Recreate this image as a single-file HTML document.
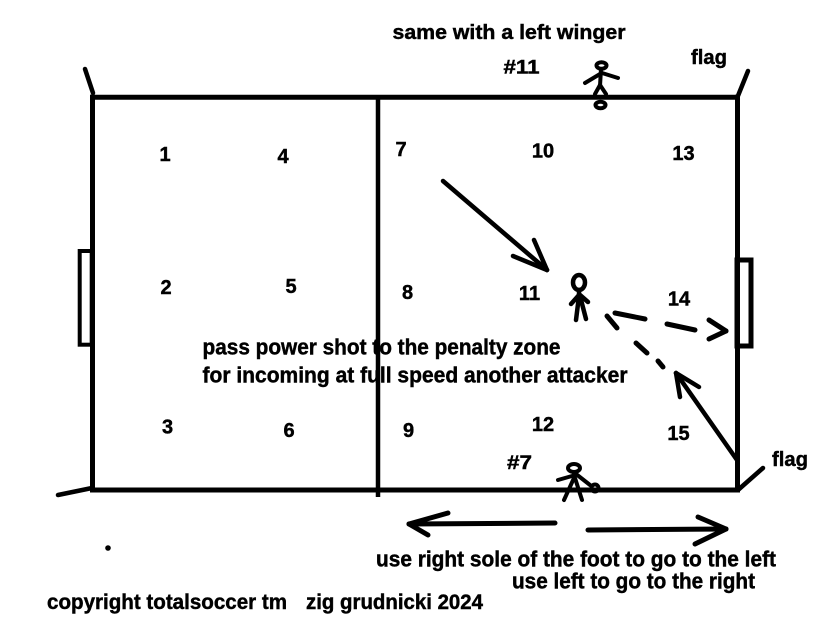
<!DOCTYPE html>
<html>
<head>
<meta charset="utf-8">
<style>
  html, body { margin:0; padding:0; background:#ffffff; }
  svg { display:block; }
  text { font-family: "Liberation Sans", sans-serif; fill:#000; font-weight:bold; stroke:#000; stroke-width:0.45; }
</style>
</head>
<body>
<svg width="823" height="620" viewBox="0 0 823 620" xmlns="http://www.w3.org/2000/svg">
  <rect width="823" height="620" fill="#ffffff"/>

  <!-- field -->
  <g stroke="#000" stroke-width="5" fill="none" stroke-linecap="square">
    <line x1="92.5" y1="97.3" x2="737.5" y2="97.3"/>
    <line x1="92.5" y1="97.3" x2="92.5" y2="490"/>
    <line x1="92.5" y1="490" x2="737.5" y2="490"/>
    <line x1="737.5" y1="97.3" x2="737.5" y2="490"/>
  </g>
  <line x1="378" y1="97" x2="378" y2="497" stroke="#000" stroke-width="4.5"/>

  <!-- goals -->
  <rect x="79.7" y="251" width="12" height="93.7" fill="none" stroke="#000" stroke-width="4"/>
  <rect x="737" y="260" width="14" height="86" fill="none" stroke="#000" stroke-width="5"/>

  <!-- flags -->
  <g stroke="#000" stroke-width="4.5" stroke-linecap="round">
    <line x1="85" y1="69" x2="93" y2="93"/>
    <line x1="748" y1="71" x2="737.5" y2="97"/>
    <line x1="763" y1="468" x2="738" y2="490"/>
    <line x1="58" y1="495" x2="92" y2="488"/>
  </g>

  <!-- arrow 1 -->
  <g stroke="#000" stroke-width="4.5" stroke-linecap="round" fill="none">
    <line x1="443" y1="181" x2="547" y2="270"/>
    <line x1="534" y1="240" x2="547" y2="270"/>
    <line x1="513" y1="256" x2="547" y2="270"/>
  </g>

  <!-- dashed arrow to goal -->
  <g stroke="#000" stroke-width="5" stroke-linecap="round" fill="none">
    <line x1="615" y1="313" x2="645" y2="319"/>
    <line x1="667" y1="324" x2="695" y2="330"/>
    <line x1="709" y1="320" x2="726" y2="331"/>
    <line x1="709" y1="339" x2="726" y2="331"/>
    <!-- diagonal dashes -->
    <line x1="607" y1="316" x2="617" y2="328"/>
    <line x1="636" y1="343" x2="647" y2="353"/>
    <line x1="658" y1="361" x2="663" y2="367"/>
  </g>

  <!-- corner arrow -->
  <g stroke="#000" stroke-width="4.5" stroke-linecap="round" fill="none">
    <line x1="737" y1="460" x2="676" y2="373"/>
    <line x1="680" y1="397" x2="676" y2="373"/>
    <line x1="699" y1="387" x2="676" y2="373"/>
  </g>

  <!-- bottom arrows -->
  <g stroke="#000" stroke-width="5" stroke-linecap="round" fill="none">
    <line x1="555" y1="523" x2="409" y2="524"/>
    <line x1="448" y1="513" x2="409" y2="524"/>
    <line x1="428" y1="535" x2="409" y2="524"/>
    <line x1="588" y1="530" x2="726" y2="529"/>
    <line x1="698" y1="517" x2="726" y2="529"/>
    <line x1="695" y1="544" x2="726" y2="529"/>
  </g>

  <!-- top player -->
  <g stroke="#000" stroke-width="4" stroke-linecap="round" fill="none">
    <ellipse cx="601.5" cy="65.5" rx="5" ry="3.2"/>
    <line x1="601" y1="69" x2="600" y2="86"/>
    <line x1="600" y1="74" x2="585" y2="83"/>
    <line x1="602" y1="73" x2="618" y2="78"/>
    <line x1="600" y1="85" x2="595" y2="94"/>
    <line x1="600" y1="85" x2="606" y2="94"/>
    <ellipse cx="600.5" cy="105" rx="5" ry="3.2"/>
  </g>

  <!-- center player -->
  <g stroke="#000" stroke-width="4.5" stroke-linecap="round" fill="none">
    <ellipse cx="579" cy="282.5" rx="6" ry="7.5"/>
    <line x1="579" y1="290" x2="579" y2="298"/>
    <line x1="579" y1="295" x2="571" y2="304"/>
    <line x1="580" y1="295" x2="588" y2="302"/>
    <line x1="579" y1="296" x2="576" y2="320"/>
    <line x1="580" y1="296" x2="586" y2="319"/>
  </g>

  <!-- bottom player -->
  <g stroke="#000" stroke-width="4" stroke-linecap="round" fill="none">
    <ellipse cx="574" cy="468" rx="6" ry="4"/>
    <line x1="574" y1="472" x2="574" y2="480"/>
    <line x1="572" y1="476" x2="558" y2="480"/>
    <line x1="576" y1="474" x2="590" y2="485"/>
    <line x1="574" y1="478" x2="564" y2="500"/>
    <line x1="575" y1="478" x2="582" y2="500"/>
    <circle cx="595" cy="488" r="3.5"/>
  </g>

  <!-- dot -->
  <circle cx="108" cy="548" r="2.8" fill="#000"/>

  <!-- labels -->
  <text x="392.5" y="39" font-size="20" textLength="233" lengthAdjust="spacingAndGlyphs">same with a left winger</text>
  <text x="503.5" y="73.5" font-size="19" textLength="36" lengthAdjust="spacingAndGlyphs">#11</text>
  <text x="691" y="64" font-size="20" textLength="36" lengthAdjust="spacingAndGlyphs">flag</text>
  <text x="772" y="466" font-size="20" textLength="36" lengthAdjust="spacingAndGlyphs">flag</text>
  <text x="507" y="469" font-size="19" textLength="25" lengthAdjust="spacingAndGlyphs">#7</text>

  <g font-size="20" text-anchor="middle">
    <text x="165" y="161">1</text>
    <text x="283" y="163">4</text>
    <text x="401" y="156">7</text>
    <text x="543" y="157.5">10</text>
    <text x="683.5" y="160">13</text>
    <text x="166" y="294">2</text>
    <text x="291" y="293">5</text>
    <text x="407.5" y="299">8</text>
    <text x="529.5" y="300">11</text>
    <text x="679" y="305.5">14</text>
    <text x="167.5" y="433.5">3</text>
    <text x="289" y="437">6</text>
    <text x="408.5" y="437">9</text>
    <text x="543" y="431">12</text>
    <text x="678.5" y="440">15</text>
  </g>

  <text x="202.5" y="354.5" font-size="22" textLength="358" lengthAdjust="spacingAndGlyphs">pass power shot to the penalty zone</text>
  <text x="202.5" y="382.5" font-size="22" textLength="425" lengthAdjust="spacingAndGlyphs">for incoming at full speed another attacker</text>

  <text x="376" y="566.5" font-size="22" textLength="400" lengthAdjust="spacingAndGlyphs">use right sole of the foot to go to the left</text>
  <text x="512" y="588.5" font-size="22" textLength="243" lengthAdjust="spacingAndGlyphs">use left to go to the right</text>
  <text x="47" y="609" font-size="21" textLength="240" lengthAdjust="spacingAndGlyphs">copyright totalsoccer tm</text>
  <text x="306" y="609" font-size="21" textLength="177" lengthAdjust="spacingAndGlyphs">zig grudnicki 2024</text>
</svg>
</body>
</html>
